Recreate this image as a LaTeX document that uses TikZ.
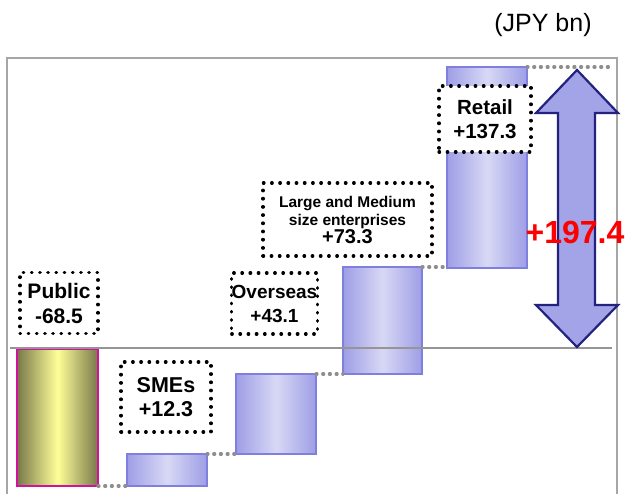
\documentclass[tikz,border=0pt]{standalone}
\usepackage{fontspec}
\setmainfont{Liberation Sans}
\definecolor{framegray}{HTML}{A6A6A6}
\definecolor{axisgray}{HTML}{959595}
\definecolor{dotgray}{HTML}{8E8E8E}
\definecolor{barblueedge}{HTML}{9E9EE6}
\definecolor{barbluemid}{HTML}{D8D8F5}
\definecolor{barblueline}{HTML}{7F7FE0}
\definecolor{olive}{HTML}{78784A}
\definecolor{paleyellow}{HTML}{FFFF99}
\definecolor{magentaline}{HTML}{D4109E}
\definecolor{arrowfill}{HTML}{A3A3E8}
\definecolor{arrowline}{HTML}{23237F}
\tikzset{
  bluebar/.style={left color=barblueedge, right color=barblueedge, middle color=barbluemid, draw=barblueline, line width=1.5pt},
  yellowbar/.style={left color=olive, right color=olive, middle color=paleyellow, draw=magentaline, line width=2pt},
  greydots/.style={dotgray, line width=3.2pt, line cap=round, dash pattern=on 1pt off 5.7pt},
  labelbox/.style={draw=black, fill=white, line width=3.2pt, line cap=round, dash pattern=on 0.6pt off 7.6pt, inner sep=0pt, align=center, font=\bfseries},
}
\begin{document}
\begin{tikzpicture}[x=1pt,y=-1pt]
\useasboundingbox (0,0) rectangle (627,494);
\fill[white] (0,0) rectangle (627,494);
% frame
\draw[framegray, line width=1.6pt] (7,494) -- (7,58) -- (617,58) -- (617,494);
% unit
\node[font=\fontsize{25}{28}\selectfont, inner sep=0pt] (unit) at (543,25) {(JPY bn)};
% bars
\shade[yellowbar] (17,349) rectangle (98,486);
\coordinate (pubBR) at (98,486);
\shade[bluebar] (127,454) rectangle (207,486);
\coordinate (smeBL) at (127,486);
\coordinate (smeTR) at (207,454);
\shade[bluebar] (236,374) rectangle (316,454);
\coordinate (ovsTL) at (236,454);
\coordinate (ovsTR) at (316,374);
\shade[bluebar] (343,267) rectangle (422,374);
\coordinate (lrgTL) at (343,374);
\coordinate (lrgTR) at (422,267);
\shade[bluebar] (447,67) rectangle (527,268);
\coordinate (retTL) at (447,267);
\coordinate (retTR) at (527,67);
\coordinate (endR) at (612,67);
% connectors
\draw[greydots] (pubBR) -- (smeBL);
\draw[greydots] (smeTR) -- (ovsTL);
\draw[greydots] (ovsTR) -- (lrgTL);
\draw[greydots] (lrgTR) -- (retTL);
\draw[greydots] (retTR) -- (endR);
% axis
\coordinate (axL) at (10,348);
\coordinate (axR) at (612,348);
\draw[axisgray, line width=1.8pt] (axL) -- (axR);
% label boxes
\node[labelbox, minimum width=78pt, minimum height=61pt, font=\bfseries\fontsize{21}{25}\selectfont] (pub) at (59,303) {Public\\-68.5};
\node[labelbox, minimum width=90pt, minimum height=70pt, font=\bfseries\fontsize{21.5}{24}\selectfont] (sme) at (166,397) {SMEs\\+12.3};
\node[labelbox, minimum width=85pt, minimum height=61pt, font=\bfseries\fontsize{19}{24}\selectfont] (ovs) at (274.5,303.5) {Overseas\\+43.1};
\node[labelbox, minimum width=169pt, minimum height=73pt, font=\bfseries\fontsize{15.5}{18}\selectfont] (lrg) at (347.5,219.5) {Large and Medium\\size enterprises\\{\fontsize{20}{20}\selectfont +73.3}};
\node[labelbox, minimum width=92pt, minimum height=66pt, font=\bfseries\fontsize{20.5}{24}\selectfont] (ret) at (485,119) {Retail\\+137.3};
% double arrow
\draw[fill=arrowfill, draw=arrowline, line width=2.2pt, line join=miter]
  (577,70) -- (618,113) -- (595,113) -- (595,305) -- (618,305) -- (577,347)
  -- (536,305) -- (558,305) -- (558,113) -- (536,113) -- cycle;
\node[text=red, font=\bfseries\fontsize{32}{32}\selectfont, inner sep=0pt] (total) at (575,232) {+197.4};
\end{tikzpicture}
\end{document}
